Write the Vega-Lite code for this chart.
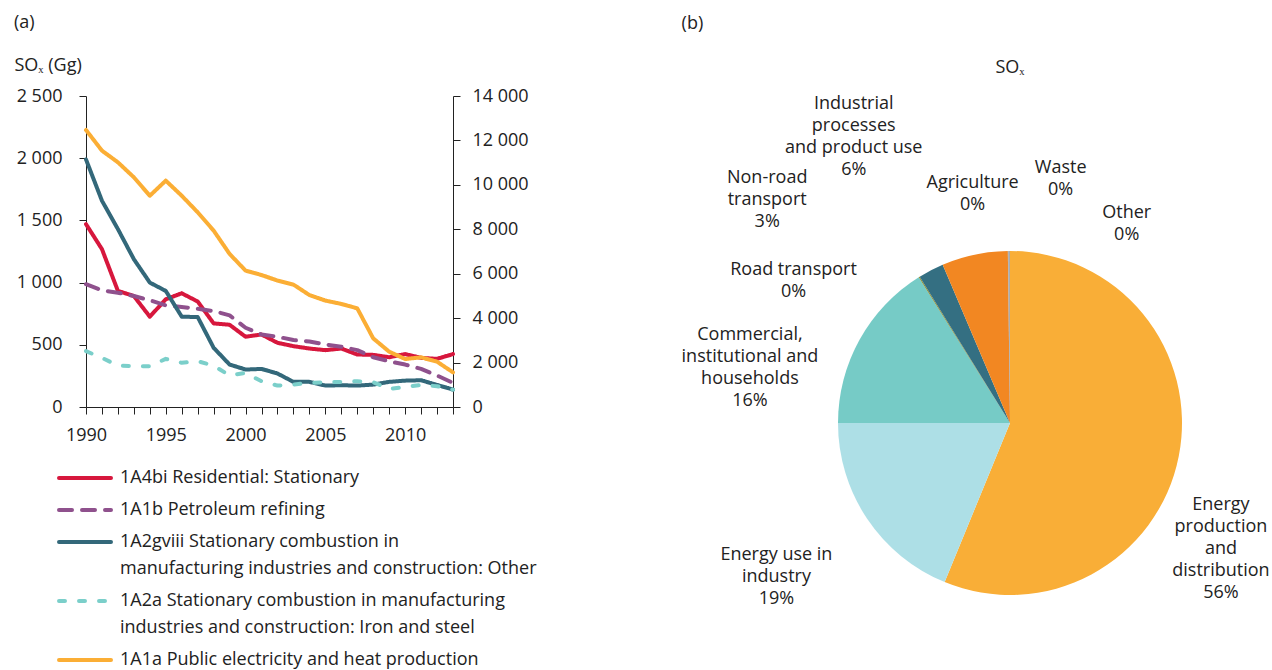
{
  "$schema": "https://vega.github.io/schema/vega-lite/v6.json",
  "padding": {"left": 14, "top": 14, "right": 0, "bottom": 0},
  "spacing": 144,
  "config": {
    "font": "Open Sans",
    "view": {"stroke": null},
    "title": {"fontSize": 18, "fontWeight": "normal", "color": "#222", "font": "Open Sans"},
    "axis": {"labelFont": "Open Sans", "labelFontSize": 18, "labelColor": "#222", "domainColor": "#222", "tickColor": "#222", "tickSize": 7, "grid": false, "titleFont": "Open Sans", "titleFontSize": 18, "titleFontWeight": "normal", "titleColor": "#222"},
    "text": {"font": "Open Sans", "fontSize": 18, "color": "#222"}
  },
  "resolve": {"scale": {"color": "independent", "strokeDash": "independent", "theta": "independent"}},
  "hconcat": [
    {
      "title": {"text": "(a)", "anchor": "start", "offset": 24},
      "width": 367,
      "height": 311,
      "data": {"values": [
        {"year": 1990, "res": 1470, "pet": 987, "oth": 1990, "iron": 449, "pub": 12470},
        {"year": 1991, "res": 1269, "pet": 938, "oth": 1658, "iron": 395, "pub": 11540},
        {"year": 1992, "res": 933, "pet": 919, "oth": 1430, "iron": 333, "pub": 11015},
        {"year": 1993, "res": 892, "pet": 892, "oth": 1188, "iron": 328, "pub": 10340},
        {"year": 1994, "res": 726, "pet": 858, "oth": 1000, "iron": 328, "pub": 9510},
        {"year": 1995, "res": 866, "pet": 817, "oth": 933, "iron": 387, "pub": 10190},
        {"year": 1996, "res": 914, "pet": 804, "oth": 726, "iron": 355, "pub": 9510},
        {"year": 1997, "res": 848, "pet": 790, "oth": 723, "iron": 368, "pub": 8765},
        {"year": 1998, "res": 672, "pet": 771, "oth": 476, "iron": 333, "pub": 7940},
        {"year": 1999, "res": 661, "pet": 737, "oth": 341, "iron": 253, "pub": 6890},
        {"year": 2000, "res": 565, "pet": 637, "oth": 301, "iron": 274, "pub": 6140},
        {"year": 2001, "res": 583, "pet": 583, "oth": 306, "iron": 207, "pub": 5940},
        {"year": 2002, "res": 516, "pet": 565, "oth": 269, "iron": 172, "pub": 5690},
        {"year": 2003, "res": 489, "pet": 538, "oth": 202, "iron": 180, "pub": 5510},
        {"year": 2004, "res": 470, "pet": 527, "oth": 202, "iron": 194, "pub": 5040},
        {"year": 2005, "res": 457, "pet": 503, "oth": 172, "iron": 199, "pub": 4790},
        {"year": 2006, "res": 470, "pet": 484, "oth": 175, "iron": 202, "pub": 4640},
        {"year": 2007, "res": 422, "pet": 457, "oth": 172, "iron": 207, "pub": 4440},
        {"year": 2008, "res": 419, "pet": 400, "oth": 180, "iron": 199, "pub": 3090},
        {"year": 2009, "res": 400, "pet": 368, "oth": 202, "iron": 145, "pub": 2490},
        {"year": 2010, "res": 425, "pet": 341, "oth": 212, "iron": 161, "pub": 2160},
        {"year": 2011, "res": 395, "pet": 306, "oth": 215, "iron": 177, "pub": 2235},
        {"year": 2012, "res": 387, "pet": 253, "oth": 177, "iron": 167, "pub": 2040},
        {"year": 2013, "res": 425, "pet": 194, "oth": 140, "iron": 140, "pub": 1560}
      ]},
      "layer": [
        {
          "transform": [{"fold": ["res", "pet", "oth", "iron"], "as": ["key", "value"]}],
          "mark": {"type": "line", "strokeWidth": 4, "strokeCap": "round", "strokeJoin": "round"},
          "encoding": {
            "x": {"field": "year", "type": "quantitative", "scale": {"domain": [1990, 2013], "nice": false, "zero": false},
                  "axis": {"title": null, "values": [1990,1991,1992,1993,1994,1995,1996,1997,1998,1999,2000,2001,2002,2003,2004,2005,2006,2007,2008,2009,2010,2011,2012,2013], "format": "d", "labelExpr": "datum.value % 5 == 0 ? datum.label : ''", "labelOverlap": false, "labelPadding": 12, "labelFlush": false}},
            "y": {"field": "value", "type": "quantitative", "scale": {"domain": [0, 2500], "nice": false},
                  "axis": {"title": "SOₓ (Gg)", "values": [0, 500, 1000, 1500, 2000, 2500], "labelExpr": "replace(format(datum.value, ','), ',', ' ')", "labelPadding": 17, "titleAngle": 0, "titleAlign": "left", "titleBaseline": "middle", "titleX": -72, "titleY": -31}},
            "color": {"field": "key", "type": "nominal",
                      "scale": {"domain": ["res", "pet", "oth", "iron", "pub"], "range": ["#d7173d", "#8f518d", "#33687a", "#7bcfca", "#fbae35"]},
                      "legend": {"title": null, "orient": "none", "legendX": -29, "legendY": 374, "direction": "vertical", "symbolType": "stroke", "symbolSize": 2704, "symbolStrokeWidth": 4, "clipHeight": 16, "labelFontSize": 18, "labelColor": "#222", "labelFont": "Open Sans", "labelLimit": 0, "labelOffset": 7, "rowPadding": 14, "padding": 0, "labelBaseline": "top",
                                 "labelExpr": "datum.value == 'res' ? '1A4bi Residential: Stationary' : datum.value == 'pet' ? '1A1b Petroleum refining' : datum.value == 'oth' ? ['1A2gviii Stationary combustion in', 'manufacturing industries and construction: Other'] : datum.value == 'iron' ? ['1A2a Stationary combustion in manufacturing', 'industries and construction: Iron and steel'] : '1A1a Public electricity and heat production'",
                                 "encode": {"labels": {"update": {"lineHeight": {"value": 27}, "dy": {"value": -9}}}, "symbols": {"update": {"strokeCap": {"value": "round"}}}}}},
            "strokeDash": {"field": "key", "type": "nominal",
                           "scale": {"domain": ["res", "pet", "oth", "iron", "pub"], "range": [[1, 0], [13, 10], [1, 0], [6, 14], [1, 0]]}}
          }
        },
        {
          "transform": [{"fold": ["pub"], "as": ["key", "value"]}],
          "mark": {"type": "line", "strokeWidth": 4, "strokeCap": "round", "strokeJoin": "round"},
          "encoding": {
            "x": {"field": "year", "type": "quantitative",
                  "axis": {"title": null, "values": [1990,1991,1992,1993,1994,1995,1996,1997,1998,1999,2000,2001,2002,2003,2004,2005,2006,2007,2008,2009,2010,2011,2012,2013], "format": "d", "labelExpr": "datum.value % 5 == 0 ? datum.label : ''", "labelOverlap": false, "labelPadding": 12, "labelFlush": false}},
            "y": {"field": "value", "type": "quantitative", "scale": {"domain": [0, 14000], "nice": false},
                  "axis": {"title": null, "orient": "right", "values": [0, 2000, 4000, 6000, 8000, 10000, 12000, 14000], "labelExpr": "replace(format(datum.value, ','), ',', ' ')", "labelPadding": 12}},
            "color": {"field": "key", "type": "nominal"},
            "strokeDash": {"field": "key", "type": "nominal"}
          }
        }
      ],
      "resolve": {"scale": {"y": "independent"}}
    },
    {
      "title": {"text": "(b)", "anchor": "start", "offset": 26},
      "spacing": -3,
      "vconcat": [
        {
          "title": {"text": "SOₓ", "anchor": "middle", "frame": "group", "offset": 19},
          "width": 400,
          "height": 1,
          "data": {"values": []},
          "mark": "point"
        },
        {
          "width": 400,
          "height": 340,
          "data": {"values": [
            {"k": "ep", "rank": 1, "v": 56.2, "label": "Energy\nproduction\nand\ndistribution\n56%"},
            {"k": "eu", "rank": 2, "v": 18.8, "label": "Energy use in\nindustry\n19%"},
            {"k": "com", "rank": 3, "v": 16.1, "label": "Commercial,\ninstitutional and\nhouseholds\n16%"},
            {"k": "road", "rank": 4, "v": 0.1, "label": "Road transport\n0%"},
            {"k": "nr", "rank": 5, "v": 2.4, "label": "Non-road\ntransport\n3%"},
            {"k": "ipp", "rank": 6, "v": 6.2, "label": "Industrial\nprocesses\nand product use\n6%"},
            {"k": "agr", "rank": 7, "v": 0.05, "label": "Agriculture\n0%"},
            {"k": "waste", "rank": 8, "v": 0.1, "label": "Waste\n0%"},
            {"k": "other", "rank": 9, "v": 0.05, "label": "Other\n0%"}
          ]},
          "layer": [
            {
              "mark": {"type": "arc", "outerRadius": 172},
              "encoding": {
                "theta": {"field": "v", "type": "quantitative", "stack": true},
                "order": {"field": "rank", "type": "quantitative"},
                "color": {"field": "k", "type": "nominal", "legend": null,
                          "scale": {"domain": ["ep", "eu", "com", "road", "nr", "ipp", "agr", "waste", "other"],
                                    "range": ["#f9ae37", "#addfe6", "#76cbc6", "#8b8b2b", "#346f82", "#f28722", "#9a9a9a", "#a0a0a0", "#8a8a8a"]}}
              }
            },
            {
              "mark": {"type": "text", "radius": 215, "align": "center", "baseline": "middle", "lineBreak": "\n", "lineHeight": 22, "fontSize": 18, "color": "#222",
                       "dx": {"expr": "[0, -55, -72, -103, -144, -112, -35, 52, 117][datum.rank - 1]"},
                       "dy": {"expr": "[40, 12, 16, 30, -54, -109, -25, -40, 5][datum.rank - 1]"}},
              "encoding": {
                "theta": {"field": "v", "type": "quantitative", "stack": true},
                "order": {"field": "rank", "type": "quantitative"},
                "text": {"field": "label"}
              }
            }
          ]
        }
      ]
    }
  ]
}
